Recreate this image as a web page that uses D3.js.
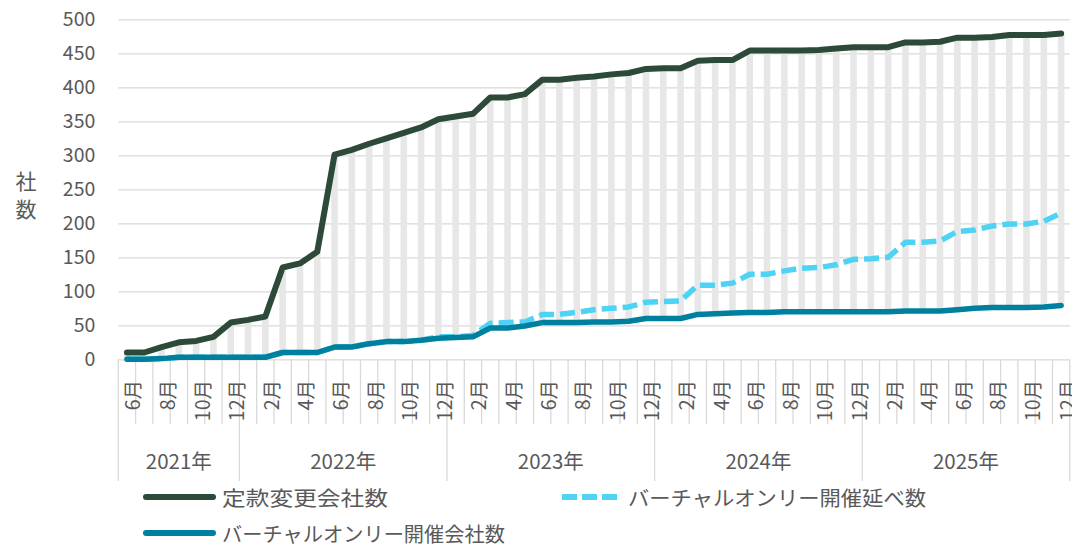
<!DOCTYPE html>
<html>
<head>
<meta charset="utf-8">
<script src="https://cdn.jsdelivr.net/npm/d3@7"></script>
<style>
  body { margin: 0; background: #fff; }
  text { font-family: "Noto Sans CJK JP", "Noto Sans", sans-serif; fill: #595959; }
</style>
</head>
<body>
<div id="chart"></div>
<script>
// months Jun 2021 .. Dec 2025
const months = [
  "6月","7月","8月","9月","10月","11月","12月",
  "1月","2月","3月","4月","5月","6月","7月","8月","9月","10月","11月","12月",
  "1月","2月","3月","4月","5月","6月","7月","8月","9月","10月","11月","12月",
  "1月","2月","3月","4月","5月","6月","7月","8月","9月","10月","11月","12月",
  "1月","2月","3月","4月","5月","6月","7月","8月","9月","10月","11月","12月"
];
const years = ["2021年", "2022年", "2023年", "2024年", "2025年"];
const yearStart = [0, 7, 19, 31, 43, 55];   // category index where each year begins

const seriesNames = ["定款変更会社数", "バーチャルオンリー開催延べ数", "バーチャルオンリー開催会社数"];

const teikan = [
  10, 10, 18, 25, 27, 33, 54,
  58, 63, 135, 141, 158, 301, 308, 317, 325, 333, 341, 353,
  357, 361, 385, 385, 390, 411, 411, 414, 416, 419, 421, 427,
  428, 428, 439, 440, 440, 454, 454, 454, 454, 455, 457, 459,
  459, 459, 466, 466, 467, 473, 473, 474, 477, 477, 477, 479
];
const nobe = [
  0, 0, 1, 3, 3, 3, 3,
  3, 3, 10, 10, 10, 18, 18, 23, 26, 26, 28, 33,
  33, 35, 53, 54, 55, 66, 66, 69, 73, 75, 77, 84,
  85, 86, 109, 109, 112, 125, 125, 130, 134, 135, 139, 147,
  148, 150, 172, 172, 174, 188, 190, 196, 199, 199, 203, 215
];
const kaisai = [
  0, 0, 1, 3, 3, 3, 3,
  3, 3, 10, 10, 10, 18, 18, 23, 26, 26, 28, 31,
  32, 33, 46, 46, 49, 54, 54, 54, 55, 55, 56, 60,
  60, 60, 66, 67, 68, 69, 69, 70, 70, 70, 70, 70,
  70, 70, 71, 71, 71, 73, 75, 76, 76, 76, 77, 79
];
const yTicks = [0, 50, 100, 150, 200, 250, 300, 350, 400, 450, 500];

const width = 1072, height = 546;
const plotL = 118.3, plotR = 1069.8, plotT = 19.3, plotB = 359.3;
const colors = ["#2D4A39", "#4FD3F5", "#00809F"];

const svg = d3.select("#chart").append("svg")
  .attr("width", width)
  .attr("height", height);

const idx = d3.range(months.length);
const x = d3.scaleBand().domain(idx).range([plotL, plotR]).padding(0);
const cx = i => x(i) + x.bandwidth() / 2;
const xAt = i => i < months.length ? x(i) : plotR;
const y = d3.scaleLinear().domain([0, 500]).range([plotB, plotT]);

// gridlines + y labels
const yAxis = svg.append("g")
  .attr("transform", "translate(" + plotL + ",0)")
  .call(d3.axisLeft(y).tickValues(yTicks).tickSize(-(plotR - plotL)).tickPadding(23));
yAxis.select(".domain").remove();
yAxis.selectAll(".tick line").attr("stroke", "#D9D9D9").attr("stroke-width", 1.3);
yAxis.selectAll(".tick text")
  .attr("font-size", 19.5)
  .attr("fill", "#595959")
  .style("font-family", "'Noto Sans CJK JP', sans-serif");

// up-down bars between first and last series
svg.append("g").selectAll("rect")
  .data(idx)
  .join("rect")
  .attr("x", i => cx(i) - 3.3)
  .attr("width", 6.6)
  .attr("y", i => y(Math.max(teikan[i], kaisai[i])))
  .attr("height", i => Math.abs(y(kaisai[i]) - y(teikan[i])))
  .attr("fill", "#E7E7E7");

// category axis: month ticks and year separators
svg.append("g").selectAll("line")
  .data(d3.range(months.length + 1))
  .join("line")
  .attr("x1", i => xAt(i))
  .attr("x2", i => xAt(i))
  .attr("y1", plotB)
  .attr("y2", i => yearStart.includes(i) ? 481 : 424)
  .attr("stroke", "#D9D9D9")
  .attr("stroke-width", 1.3);

svg.append("g").selectAll("text")
  .data(idx.filter(i => i % 2 === 0))
  .join("text")
  .attr("transform", i => "translate(" + (cx(i) + 5) + ",380) rotate(-90)")
  .attr("text-anchor", "end")
  .attr("dominant-baseline", "central")
  .attr("font-size", 19.5)
  .text(i => months[i]);

svg.append("g").selectAll("text")
  .data(years)
  .join("text")
  .attr("x", (d, k) => (xAt(yearStart[k]) + xAt(yearStart[k + 1])) / 2)
  .attr("y", 460)
  .attr("text-anchor", "middle")
  .attr("dominant-baseline", "central")
  .attr("font-size", 20.5)
  .text(d => d);

// lines
const line = d3.line()
  .x((d, i) => cx(i))
  .y(d => y(d));

svg.append("path")
  .datum(teikan)
  .attr("fill", "none")
  .attr("stroke", colors[0])
  .attr("stroke-width", 6)
  .attr("stroke-linejoin", "round")
  .attr("stroke-linecap", "round")
  .attr("d", line);

svg.append("path")
  .datum(nobe)
  .attr("fill", "none")
  .attr("stroke", colors[1])
  .attr("stroke-width", 5.5)
  .attr("stroke-dasharray", "15,6")
  .attr("stroke-linejoin", "round")
  .attr("d", line);

svg.append("path")
  .datum(kaisai)
  .attr("fill", "none")
  .attr("stroke", colors[2])
  .attr("stroke-width", 5.5)
  .attr("stroke-linejoin", "round")
  .attr("stroke-linecap", "round")
  .attr("d", line);

// y axis title
svg.append("text").attr("x", 26).attr("y", 180)
  .attr("text-anchor", "middle").attr("dominant-baseline", "central")
  .attr("font-size", 21).text("社");
svg.append("text").attr("x", 26).attr("y", 208)
  .attr("text-anchor", "middle").attr("dominant-baseline", "central")
  .attr("font-size", 21).text("数");

// legend
const legendItems = [
  { name: seriesNames[0], color: colors[0], dash: null, x: 146, y: 497, len: 166 },
  { name: seriesNames[1], color: colors[1], dash: "15,5", x: 562, y: 497, len: 298 },
  { name: seriesNames[2], color: colors[2], dash: null, x: 146, y: 533, len: 283 }
];
const lg = svg.append("g").selectAll("g")
  .data(legendItems)
  .join("g")
  .attr("transform", d => "translate(" + d.x + "," + d.y + ")");
lg.append("line")
  .attr("x1", 0)
  .attr("x2", d => d.dash ? 60 : 67)
  .attr("stroke", d => d.color)
  .attr("stroke-width", 6)
  .attr("stroke-linecap", d => d.dash ? "butt" : "round")
  .attr("stroke-dasharray", d => d.dash);
lg.append("text")
  .attr("x", d => d.dash ? 66 : 76)
  .attr("dominant-baseline", "central")
  .attr("font-size", 20.5)
  .attr("textLength", d => d.len)
  .attr("lengthAdjust", "spacingAndGlyphs")
  .text(d => d.name);
</script>
</body>
</html>
